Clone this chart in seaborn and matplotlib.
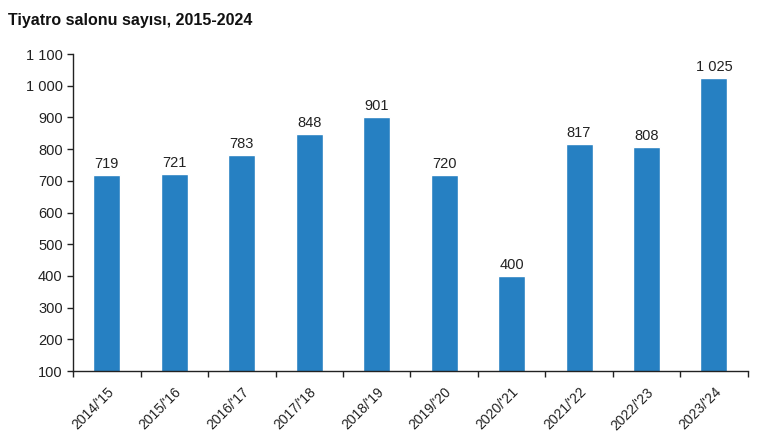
import matplotlib.pyplot as plt
import numpy as np
import seaborn as sns

seasons = ["2014/'15", "2015/'16", "2016/'17", "2017/'18", "2018/'19",
           "2019/'20", "2020/'21", "2021/'22", "2022/'23", "2023/'24"]
halls = [719, 721, 783, 848, 901, 720, 400, 817, 808, 1025]
yticks = [100, 200, 300, 400, 500, 600, 700, 800, 900, 1000, 1100]


def fmt(v):
    return f'{v:,}'.replace(',', ' ')


sns.set_style('white')
plt.rcParams['font.family'] = ['Liberation Sans', 'DejaVu Sans']

fig = plt.figure(figsize=(7.7, 4.47), dpi=100)
ax = fig.add_axes([0.095, 0.170, 0.876, 0.709])

sns.barplot(x=seasons, y=halls, color='#2680C2', width=0.4, saturation=1, ax=ax)

# labels above bars
for i, v in enumerate(halls):
    ax.text(i, v + 12, fmt(v), ha='center', va='bottom', fontsize=10.5, color='#222222')

ax.set_ylim(100, 1100)
ax.set_xlim(-0.5, len(seasons) - 0.5)
ax.set_yticks(yticks)
ax.set_yticklabels([fmt(t) for t in yticks], fontsize=10.5, color='#222222')
ax.set_xticks(range(len(seasons)))
ax.set_xticklabels(seasons, rotation=45, ha='right', rotation_mode='anchor', fontsize=10, color='#222222')
ax.set_xticks(np.arange(-0.5, len(seasons)), minor=True)
ax.tick_params(axis='x', which='major', length=0, pad=10)
ax.tick_params(axis='x', which='minor', length=4, direction='out', width=1, color='#222222', bottom=True)
ax.tick_params(axis='y', length=4, direction='out', width=1, color='#222222', left=True)

for s in ['top', 'right']:
    ax.spines[s].set_visible(False)
for s in ['left', 'bottom']:
    ax.spines[s].set_color('#222222')
    ax.spines[s].set_linewidth(1)

fig.text(0.011, 0.955, 'Tiyatro salonu sayısı, 2015-2024', fontsize=11.5, fontweight='bold',
         ha='left', va='center', color='#111111')

fig.savefig('out.png', dpi=100)
